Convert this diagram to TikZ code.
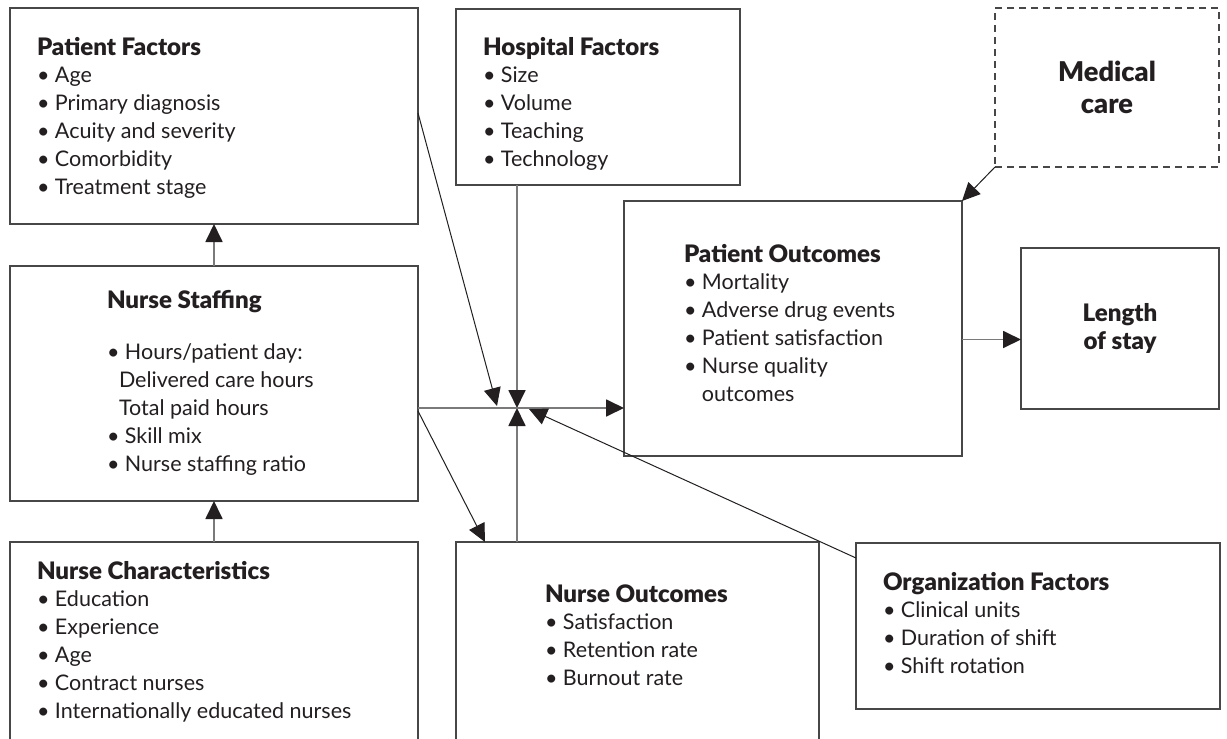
\documentclass[tikz,border=0pt]{standalone}
\usepackage{fontspec}
\setmainfont{Lato}[BoldFont={Lato Black}, BoldFeatures={Scale=1.12}]
\usetikzlibrary{arrows.meta,calc}
\definecolor{ink}{HTML}{231F20}
\newcommand\mybody{\fontsize{21.5}{27.8}\selectfont}
\begin{document}
\begin{tikzpicture}[x=1pt,y=-1pt,
  box/.style={draw=black!72, line width=1.2pt, rectangle, inner sep=0pt, outer sep=0pt, anchor=north west, text=ink},
  dbox/.style={box, dash pattern=on 7pt off 5pt},
  txt/.style={anchor=base west, inner sep=0pt, outer sep=0pt, text=ink},
  tipped/.style={-{Triangle[length=18pt,width=17pt,color=ink,fill=ink]}},
  grayline/.style={draw=black!52, line width=1.8pt, tipped},
  thinline/.style={draw=ink, line width=1pt, tipped}]
\path[use as bounding box] (0,0) rectangle (1227,739);
\clip (0,0) rectangle (1227,739);
\fill[white] (0,0) rectangle (1227,739);

% boxes
\node[box, minimum width=408pt, minimum height=216pt] (pf) at (10,8) {};
\node[box, minimum width=408pt, minimum height=235pt] (ns) at (10,266) {};
\node[box, minimum width=408pt, minimum height=230pt] (nc) at (10,542) {};
\node[box, minimum width=284pt, minimum height=176pt] (hf) at (456,9) {};
\node[dbox, minimum width=224pt, minimum height=159pt, align=center, font=\fontsize{24.3}{32}\selectfont\bfseries] (mc) at (995,8) {Medical\\care};
\node[box, minimum width=338pt, minimum height=255pt] (po) at (624,201) {};
\node[box, minimum width=198pt, minimum height=161pt, align=center, font=\fontsize{21.5}{28}\selectfont\bfseries] (los) at (1021,248) {Length\\of stay};
\node[box, minimum width=363pt, minimum height=230pt] (no) at (456,542) {};
\node[box, minimum width=364pt, minimum height=166pt] (of) at (856,543) {};

% texts
\node[txt] (pft) at (37,55) {\parbox[t]{370pt}{\mybody\textbf{Patient Factors}\\• Age\\• Primary diagnosis\\• Acuity and severity\\• Comorbidity\\• Treatment stage}};
\node[txt] (hft) at (483,55) {\parbox[t]{250pt}{\mybody\textbf{Hospital Factors}\\• Size\\• Volume\\• Teaching\\• Technology}};
\node[txt] (nst) at (107,308) {\parbox[t]{300pt}{\mybody\textbf{Nurse Staffing}\\[24pt]• Hours/patient day:\\\hspace*{12pt}Delivered care hours\\\hspace*{12pt}Total paid hours\\• Skill mix\\• Nurse staffing ratio}};
\node[txt] (nct) at (37,579) {\parbox[t]{370pt}{\mybody\textbf{Nurse Characteristics}\\• Education\\• Experience\\• Age\\• Contract nurses\\• Internationally educated nurses}};
\node[txt] (pot) at (684,262) {\parbox[t]{270pt}{\mybody\textbf{Patient Outcomes}\\• Mortality\\• Adverse drug events\\• Patient satisfaction\\• Nurse quality\\\phantom{• }outcomes}};
\node[txt] (not) at (545,602) {\parbox[t]{270pt}{\mybody\textbf{Nurse Outcomes}\\• Satisfaction\\• Retention rate\\• Burnout rate}};
\node[txt] (oft) at (883,590) {\parbox[t]{320pt}{\mybody\textbf{Organization Factors}\\• Clinical units\\• Duration of shift\\• Shift rotation}};

% junction points
\coordinate (J) at (517,408);
\coordinate (jPF) at (497,406);
\coordinate (jOF) at (529,409);

% connectors
\draw[grayline] (nc.north) -- (ns.south);
\draw[grayline] (ns.north) -- (pf.south);
\draw[grayline] (hf.south -| J) -- (J);
\draw[grayline] (no.north -| J) -- (J);
\draw[grayline] (ns.east |- J) -- (po.west |- J);
\draw[thinline] ($(pf.north east)+(0,105)$) -- (jPF);
\draw[thinline] ($(of.north west)+(0,15)$) -- (jOF);
\draw[thinline] ($(ns.east |- J)+(0,3)$) -- ($(no.north west)+(29,0)$);
\draw[grayline] ($(po.east)+(0,11)$) -- ($(los.west)+(0,11)$);
\draw[thinline] (mc.south west) -- (po.north east);
\end{tikzpicture}
\end{document}
